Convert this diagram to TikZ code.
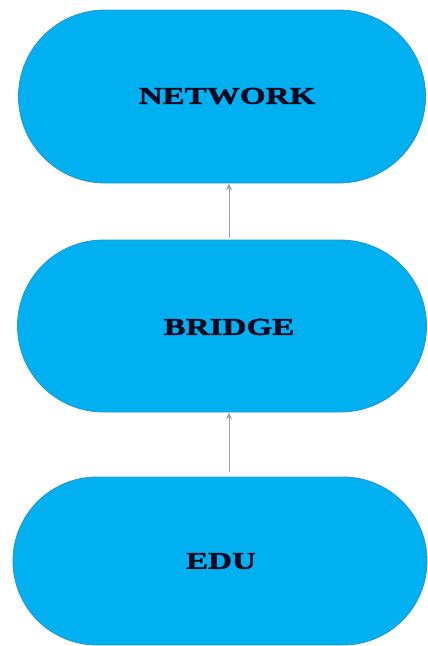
\documentclass[tikz,border=0pt]{standalone}
\usepackage{fontspec}
\usepackage{tikz}
\usetikzlibrary{arrows.meta, positioning, calc, shapes.misc}
\newfontfamily\layerfont{Liberation Serif}[FakeStretch=1.38, BoldFeatures={FakeBold=2}]
\definecolor{layerblue}{RGB}{0,176,240}
\definecolor{layeredge}{RGB}{40,150,205}
\definecolor{linkgray}{RGB}{160,160,160}
\definecolor{layertext}{RGB}{5,10,35}

\begin{document}
\begin{tikzpicture}[
    x=1pt, y=1pt,
    layer/.style={draw=layeredge, line width=0.8pt, fill=layerblue,
                  rounded rectangle, inner sep=0pt},
    lbl/.style={font=\layerfont\bfseries\fontsize{24}{28}\selectfont,
                text=layertext},
    link/.style={draw=linkgray, line width=1pt,
                 -{Stealth[length=7pt, width=6pt]}},
]
\useasboundingbox (0,0) rectangle (428,-646);
\fill[white] (0,0) rectangle (428,-646);
  \node[layer, minimum width=407pt, minimum height=173pt] (net) at (222,-96.5) {};
  \node[layer, minimum width=409pt, minimum height=172pt] (bridge) at (222,-326) {};
  \node[layer, minimum width=414pt, minimum height=168pt] (edu) at (220,-561) {};
  \node[lbl] (netlbl) at (227,-96) {NETWORK};
  \node[lbl] (bridgelbl) at (229,-327) {BRIDGE};
  \node[lbl] (edulbl) at (221,-561) {EDU};
  \draw[link] ([xshift=7pt,yshift=2pt]bridge.north) -- ([xshift=7pt]net.south);
  \draw[link] ([xshift=9pt,yshift=5pt]edu.north) -- ([xshift=7pt]bridge.south);
\end{tikzpicture}
\end{document}
